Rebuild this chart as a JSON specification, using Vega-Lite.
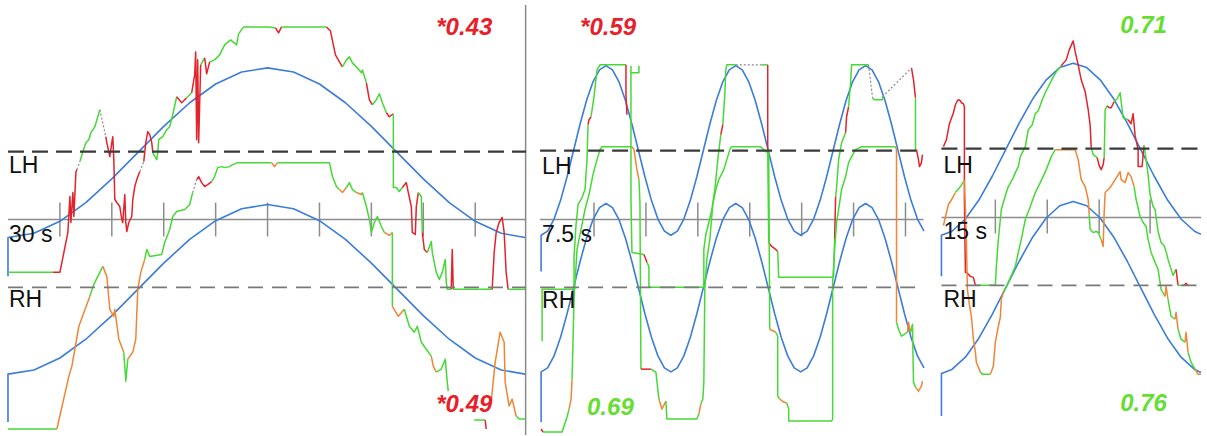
{
"$schema": "https://vega.github.io/schema/vega-lite/v6.json",
"width": 1207, "height": 436,
"autosize": {"type": "fit", "contains": "padding"},
"padding": 0,
"background": "white",
"config": {"view": {"stroke": null}},
"datasets": {
"refs": [
{"kind":"LH","x":8,"x2":527,"y":152},{"kind":"LH","x":541,"x2":925,"y":151},{"kind":"LH","x":943,"x2":1207,"y":149},
{"kind":"RH","x":8,"x2":527,"y":288},{"kind":"RH","x":541,"x2":925,"y":288},{"kind":"RH","x":943,"x2":1203,"y":286},
{"kind":"mid","x":8,"x2":527,"y":220},{"kind":"mid","x":541,"x2":925,"y":220},{"kind":"mid","x":943,"x2":1203,"y":218}
],
"sep": [{"x":526.5,"y":5,"y2":436}],
"ticks": [
{"x":60,"y":203,"y2":237},{"x":112,"y":203,"y2":237},{"x":164,"y":203,"y2":237},{"x":216,"y":203,"y2":237},{"x":268,"y":203,"y2":237},{"x":320,"y":203,"y2":237},{"x":372,"y":203,"y2":237},{"x":424,"y":203,"y2":237},{"x":476,"y":203,"y2":237},
{"x":595,"y":203,"y2":237},{"x":647,"y":203,"y2":237},{"x":699,"y":203,"y2":237},{"x":751,"y":203,"y2":237},{"x":803,"y":203,"y2":237},{"x":855,"y":203,"y2":237},{"x":907,"y":203,"y2":237},
{"x":997,"y":200,"y2":234},{"x":1049,"y":200,"y2":234},{"x":1101,"y":200,"y2":234},{"x":1152,"y":200,"y2":234}
],
"labels": [
{"t":"LH","x":9,"y":173},{"t":"30 s","x":9,"y":243},{"t":"RH","x":9,"y":308},
{"t":"LH","x":543,"y":174},{"t":"7.5 s","x":543,"y":243},{"t":"RH","x":543,"y":309},
{"t":"LH","x":945,"y":173},{"t":"15 s","x":945,"y":240},{"t":"RH","x":945,"y":308}
],
"scores": [
{"t":"*0.43","x":437,"y":35,"k":"sig"},{"t":"*0.49","x":437,"y":413,"k":"sig"},
{"t":"*0.59","x":581,"y":35,"k":"sig"},{"t":"0.69","x":588,"y":416,"k":"ns"},
{"t":"0.71","x":1122,"y":33,"k":"ns"},{"t":"0.76","x":1122,"y":412,"k":"ns"}
],
"target": [
{"s":"t1u","x":8,"y":277},{"s":"t1u","x":8,"y":238},{"s":"t1u","x":34,"y":233.8},{"s":"t1u","x":60,"y":221.8},{"s":"t1u","x":86,"y":203},{"s":"t1u","x":112,"y":179.3},{"s":"t1u","x":138,"y":153},{"s":"t1u","x":164,"y":126.7},{"s":"t1u","x":190,"y":103},{"s":"t1u","x":216,"y":84.2},{"s":"t1u","x":242,"y":72.2},{"s":"t1u","x":268,"y":68},{"s":"t1u","x":294,"y":72.2},{"s":"t1u","x":320,"y":84.2},{"s":"t1u","x":346,"y":103},{"s":"t1u","x":372,"y":126.7},{"s":"t1u","x":398,"y":153},{"s":"t1u","x":424,"y":179.3},{"s":"t1u","x":450,"y":203},{"s":"t1u","x":476,"y":221.8},{"s":"t1u","x":502,"y":233.8},{"s":"t1u","x":526,"y":238},
{"s":"t1l","x":8,"y":423},{"s":"t1l","x":8,"y":375},{"s":"t1l","x":34,"y":370.8},{"s":"t1l","x":60,"y":358.8},{"s":"t1l","x":86,"y":340},{"s":"t1l","x":112,"y":316.3},{"s":"t1l","x":138,"y":290},{"s":"t1l","x":164,"y":263.7},{"s":"t1l","x":190,"y":240},{"s":"t1l","x":216,"y":221.2},{"s":"t1l","x":242,"y":209.2},{"s":"t1l","x":268,"y":205},{"s":"t1l","x":294,"y":209.2},{"s":"t1l","x":320,"y":221.2},{"s":"t1l","x":346,"y":240},{"s":"t1l","x":372,"y":263.7},{"s":"t1l","x":398,"y":290},{"s":"t1l","x":424,"y":316.3},{"s":"t1l","x":450,"y":340},{"s":"t1l","x":476,"y":358.8},{"s":"t1l","x":502,"y":370.8},{"s":"t1l","x":526,"y":375},
{"s":"t2u","x":542,"y":272},{"s":"t2u","x":542,"y":235.8},{"s":"t2u","x":548.5,"y":231.6},{"s":"t2u","x":555,"y":219.6},{"s":"t2u","x":561.5,"y":200.8},{"s":"t2u","x":568,"y":177.1},{"s":"t2u","x":574.5,"y":150.8},{"s":"t2u","x":581,"y":124.5},{"s":"t2u","x":587.5,"y":100.8},{"s":"t2u","x":594,"y":82},{"s":"t2u","x":600.5,"y":70},{"s":"t2u","x":607,"y":65.8},{"s":"t2u","x":613.5,"y":70},{"s":"t2u","x":620,"y":82},{"s":"t2u","x":626.5,"y":100.8},{"s":"t2u","x":633,"y":124.5},{"s":"t2u","x":639.5,"y":150.8},{"s":"t2u","x":646,"y":177.1},{"s":"t2u","x":652.5,"y":200.8},{"s":"t2u","x":659,"y":219.6},{"s":"t2u","x":665.5,"y":231.6},
{"s":"t2u","x":672,"y":235.8},{"s":"t2u","x":678.5,"y":231.6},{"s":"t2u","x":685,"y":219.6},{"s":"t2u","x":691.5,"y":200.8},{"s":"t2u","x":698,"y":177.1},{"s":"t2u","x":704.5,"y":150.8},{"s":"t2u","x":711,"y":124.5},{"s":"t2u","x":717.5,"y":100.8},{"s":"t2u","x":724,"y":82},{"s":"t2u","x":730.5,"y":70},{"s":"t2u","x":737,"y":65.8},{"s":"t2u","x":743.5,"y":70},{"s":"t2u","x":750,"y":82},{"s":"t2u","x":756.5,"y":100.8},{"s":"t2u","x":763,"y":124.5},{"s":"t2u","x":769.5,"y":150.8},{"s":"t2u","x":776,"y":177.1},{"s":"t2u","x":782.5,"y":200.8},{"s":"t2u","x":789,"y":219.6},{"s":"t2u","x":795.5,"y":231.6},
{"s":"t2u","x":802,"y":235.8},{"s":"t2u","x":808.5,"y":231.6},{"s":"t2u","x":815,"y":219.6},{"s":"t2u","x":821.5,"y":200.8},{"s":"t2u","x":828,"y":177.1},{"s":"t2u","x":834.5,"y":150.8},{"s":"t2u","x":841,"y":124.5},{"s":"t2u","x":847.5,"y":100.8},{"s":"t2u","x":854,"y":82},{"s":"t2u","x":860.5,"y":70},{"s":"t2u","x":867,"y":65.8},{"s":"t2u","x":873.5,"y":70},{"s":"t2u","x":880,"y":82},{"s":"t2u","x":886.5,"y":100.8},{"s":"t2u","x":893,"y":124.5},{"s":"t2u","x":899.5,"y":150.8},{"s":"t2u","x":906,"y":177.1},{"s":"t2u","x":912.5,"y":200.8},{"s":"t2u","x":919,"y":219.6},{"s":"t2u","x":925.5,"y":231.6},
{"s":"t2l","x":542,"y":423},{"s":"t2l","x":542,"y":372.8},{"s":"t2l","x":548.5,"y":368.7},{"s":"t2l","x":555,"y":356.7},{"s":"t2l","x":561.5,"y":338},{"s":"t2l","x":568,"y":314.5},{"s":"t2l","x":574.5,"y":288.4},{"s":"t2l","x":581,"y":262.3},{"s":"t2l","x":587.5,"y":238.8},{"s":"t2l","x":594,"y":220.1},{"s":"t2l","x":600.5,"y":208.1},{"s":"t2l","x":607,"y":204},{"s":"t2l","x":613.5,"y":208.1},{"s":"t2l","x":620,"y":220.1},{"s":"t2l","x":626.5,"y":238.8},{"s":"t2l","x":633,"y":262.3},{"s":"t2l","x":639.5,"y":288.4},{"s":"t2l","x":646,"y":314.5},{"s":"t2l","x":652.5,"y":338},{"s":"t2l","x":659,"y":356.7},{"s":"t2l","x":665.5,"y":368.7},
{"s":"t2l","x":672,"y":372.8},{"s":"t2l","x":678.5,"y":368.7},{"s":"t2l","x":685,"y":356.7},{"s":"t2l","x":691.5,"y":338},{"s":"t2l","x":698,"y":314.5},{"s":"t2l","x":704.5,"y":288.4},{"s":"t2l","x":711,"y":262.3},{"s":"t2l","x":717.5,"y":238.8},{"s":"t2l","x":724,"y":220.1},{"s":"t2l","x":730.5,"y":208.1},{"s":"t2l","x":737,"y":204},{"s":"t2l","x":743.5,"y":208.1},{"s":"t2l","x":750,"y":220.1},{"s":"t2l","x":756.5,"y":238.8},{"s":"t2l","x":763,"y":262.3},{"s":"t2l","x":769.5,"y":288.4},{"s":"t2l","x":776,"y":314.5},{"s":"t2l","x":782.5,"y":338},{"s":"t2l","x":789,"y":356.7},{"s":"t2l","x":795.5,"y":368.7},
{"s":"t2l","x":802,"y":372.8},{"s":"t2l","x":808.5,"y":368.7},{"s":"t2l","x":815,"y":356.7},{"s":"t2l","x":821.5,"y":338},{"s":"t2l","x":828,"y":314.5},{"s":"t2l","x":834.5,"y":288.4},{"s":"t2l","x":841,"y":262.3},{"s":"t2l","x":847.5,"y":238.8},{"s":"t2l","x":854,"y":220.1},{"s":"t2l","x":860.5,"y":208.1},{"s":"t2l","x":867,"y":204},{"s":"t2l","x":873.5,"y":208.1},{"s":"t2l","x":880,"y":220.1},{"s":"t2l","x":886.5,"y":238.8},{"s":"t2l","x":893,"y":262.3},{"s":"t2l","x":899.5,"y":288.4},{"s":"t2l","x":906,"y":314.5},{"s":"t2l","x":912.5,"y":338},{"s":"t2l","x":919,"y":356.7},{"s":"t2l","x":925.5,"y":368.7},
{"s":"t3u","x":943,"y":277},{"s":"t3u","x":943,"y":235.8},{"s":"t3u","x":953.5,"y":231.8},{"s":"t3u","x":967,"y":219.5},{"s":"t3u","x":980.5,"y":200.5},{"s":"t3u","x":994,"y":176.4},{"s":"t3u","x":1007.5,"y":149.8},{"s":"t3u","x":1021,"y":123.1},{"s":"t3u","x":1034.5,"y":99},{"s":"t3u","x":1048,"y":80},{"s":"t3u","x":1061.5,"y":67.7},{"s":"t3u","x":1075,"y":63.5},{"s":"t3u","x":1088.5,"y":67.7},{"s":"t3u","x":1102,"y":80},{"s":"t3u","x":1115.5,"y":99},{"s":"t3u","x":1129,"y":123.1},{"s":"t3u","x":1142.5,"y":149.8},{"s":"t3u","x":1156,"y":176.4},{"s":"t3u","x":1169.5,"y":200.5},{"s":"t3u","x":1183,"y":219.5},{"s":"t3u","x":1196.5,"y":231.8},{"s":"t3u","x":1203,"y":234.9},
{"s":"t3l","x":943,"y":417},{"s":"t3l","x":943,"y":374.3},{"s":"t3l","x":953.5,"y":370.3},{"s":"t3l","x":967,"y":358},{"s":"t3l","x":980.5,"y":339},{"s":"t3l","x":994,"y":314.9},{"s":"t3l","x":1007.5,"y":288.3},{"s":"t3l","x":1021,"y":261.6},{"s":"t3l","x":1034.5,"y":237.5},{"s":"t3l","x":1048,"y":218.5},{"s":"t3l","x":1061.5,"y":206.2},{"s":"t3l","x":1075,"y":202},{"s":"t3l","x":1088.5,"y":206.2},{"s":"t3l","x":1102,"y":218.5},{"s":"t3l","x":1115.5,"y":237.5},{"s":"t3l","x":1129,"y":261.6},{"s":"t3l","x":1142.5,"y":288.3},{"s":"t3l","x":1156,"y":314.9},{"s":"t3l","x":1169.5,"y":339},{"s":"t3l","x":1183,"y":358},{"s":"t3l","x":1196.5,"y":370.3},{"s":"t3l","x":1203,"y":373.4}
],
"tr": [
{"s":"a1-01","st":"hit","x":8,"y":273},{"s":"a1-01","st":"hit","x":53,"y":273},
{"s":"a1-02","st":"miss","x":53,"y":273},{"s":"a1-02","st":"miss","x":60,"y":273},{"s":"a1-02","st":"miss","x":68,"y":233},{"s":"a1-02","st":"miss","x":70,"y":197},{"s":"a1-02","st":"miss","x":71,"y":223},{"s":"a1-02","st":"miss","x":73,"y":193},{"s":"a1-02","st":"miss","x":74,"y":217},{"s":"a1-02","st":"miss","x":76,"y":173},{"s":"a1-02","st":"miss","x":77,"y":170},
{"s":"a1-03","st":"gap","x":77,"y":170},{"s":"a1-03","st":"gap","x":80,"y":162},
{"s":"a1-04","st":"hit","x":80,"y":162},{"s":"a1-04","st":"hit","x":83,"y":152},{"s":"a1-04","st":"hit","x":86,"y":143},{"s":"a1-04","st":"hit","x":89,"y":140},{"s":"a1-04","st":"hit","x":91,"y":133},{"s":"a1-04","st":"hit","x":95,"y":127},{"s":"a1-04","st":"hit","x":100,"y":110},
{"s":"a1-05","st":"gap","x":100,"y":110},{"s":"a1-05","st":"gap","x":106,"y":137},
{"s":"a1-06","st":"miss","x":106,"y":137},{"s":"a1-06","st":"miss","x":107,"y":143},{"s":"a1-06","st":"miss","x":110,"y":157},{"s":"a1-06","st":"miss","x":112,"y":143},{"s":"a1-06","st":"miss","x":113,"y":137},{"s":"a1-06","st":"miss","x":114,"y":160},{"s":"a1-06","st":"miss","x":115,"y":200},{"s":"a1-06","st":"miss","x":117,"y":203},{"s":"a1-06","st":"miss","x":120,"y":207},{"s":"a1-06","st":"miss","x":122,"y":220},{"s":"a1-06","st":"miss","x":123,"y":223},{"s":"a1-06","st":"miss","x":125,"y":195},{"s":"a1-06","st":"miss","x":126,"y":223},{"s":"a1-06","st":"miss","x":127,"y":232},{"s":"a1-06","st":"miss","x":129,"y":223},{"s":"a1-06","st":"miss","x":132,"y":217},{"s":"a1-06","st":"miss","x":133,"y":200},{"s":"a1-06","st":"miss","x":135,"y":187},{"s":"a1-06","st":"miss","x":137,"y":180},{"s":"a1-06","st":"miss","x":140,"y":172},
{"s":"a1-07","st":"gap","x":140,"y":172},{"s":"a1-07","st":"gap","x":144,"y":162},
{"s":"a1-08","st":"miss","x":144,"y":162},{"s":"a1-08","st":"miss","x":146,"y":143},{"s":"a1-08","st":"miss","x":148,"y":132},{"s":"a1-08","st":"miss","x":150,"y":135},{"s":"a1-08","st":"miss","x":152,"y":143},{"s":"a1-08","st":"miss","x":153,"y":152},
{"s":"a1-09","st":"hit","x":153,"y":152},{"s":"a1-09","st":"hit","x":154,"y":155},{"s":"a1-09","st":"hit","x":157,"y":160},{"s":"a1-09","st":"hit","x":158,"y":153},{"s":"a1-09","st":"hit","x":159,"y":140},{"s":"a1-09","st":"hit","x":163,"y":137},{"s":"a1-09","st":"hit","x":167,"y":130},{"s":"a1-09","st":"hit","x":170,"y":127},{"s":"a1-09","st":"hit","x":173,"y":115},{"s":"a1-09","st":"hit","x":177,"y":97},
{"s":"a1-10","st":"miss","x":177,"y":97},{"s":"a1-10","st":"miss","x":182,"y":103},{"s":"a1-10","st":"miss","x":187,"y":98},
{"s":"a1-11","st":"hit","x":187,"y":98},{"s":"a1-11","st":"hit","x":192,"y":93},
{"s":"a1-12","st":"miss","x":192,"y":93},{"s":"a1-12","st":"miss","x":195,"y":75},{"s":"a1-12","st":"miss","x":196,"y":52},{"s":"a1-12","st":"miss","x":197,"y":140},{"s":"a1-12","st":"miss","x":198,"y":60},{"s":"a1-12","st":"miss","x":199,"y":143},{"s":"a1-12","st":"miss","x":201,"y":65},
{"s":"a1-13","st":"hit","x":201,"y":65},{"s":"a1-13","st":"hit","x":205,"y":58},
{"s":"a1-14","st":"miss","x":205,"y":58},{"s":"a1-14","st":"miss","x":207,"y":74},{"s":"a1-14","st":"miss","x":210,"y":62},
{"s":"a1-15","st":"hit","x":210,"y":62},{"s":"a1-15","st":"hit","x":215,"y":60},{"s":"a1-15","st":"hit","x":220,"y":55},{"s":"a1-15","st":"hit","x":225,"y":45},{"s":"a1-15","st":"hit","x":231,"y":40},{"s":"a1-15","st":"hit","x":237,"y":45},{"s":"a1-15","st":"hit","x":239,"y":34},{"s":"a1-15","st":"hit","x":244,"y":27},{"s":"a1-15","st":"hit","x":270,"y":27},{"s":"a1-15","st":"hit","x":276,"y":28},
{"s":"a1-16","st":"miss","x":276,"y":28},{"s":"a1-16","st":"miss","x":279,"y":33},{"s":"a1-16","st":"miss","x":282,"y":27},
{"s":"a1-17","st":"hit","x":282,"y":27},{"s":"a1-17","st":"hit","x":327,"y":27},
{"s":"a1-18","st":"miss","x":327,"y":27},{"s":"a1-18","st":"miss","x":331,"y":31},{"s":"a1-18","st":"miss","x":336,"y":55},{"s":"a1-18","st":"miss","x":340,"y":62},{"s":"a1-18","st":"miss","x":343,"y":67},
{"s":"a1-19","st":"hit","x":343,"y":67},{"s":"a1-19","st":"hit","x":347,"y":60},{"s":"a1-19","st":"hit","x":350,"y":57},{"s":"a1-19","st":"hit","x":353,"y":63},{"s":"a1-19","st":"hit","x":357,"y":67},{"s":"a1-19","st":"hit","x":362,"y":73},{"s":"a1-19","st":"hit","x":363,"y":70},{"s":"a1-19","st":"hit","x":367,"y":83},
{"s":"a1-20","st":"miss","x":367,"y":83},{"s":"a1-20","st":"miss","x":370,"y":100},{"s":"a1-20","st":"miss","x":373,"y":105},
{"s":"a1-21","st":"hit","x":373,"y":105},{"s":"a1-21","st":"hit","x":377,"y":100},{"s":"a1-21","st":"hit","x":380,"y":94},{"s":"a1-21","st":"hit","x":383,"y":103},{"s":"a1-21","st":"hit","x":387,"y":113},
{"s":"a1-22","st":"miss","x":387,"y":113},{"s":"a1-22","st":"miss","x":390,"y":117},{"s":"a1-22","st":"miss","x":394,"y":114},
{"s":"a1-23","st":"hit","x":394,"y":114},{"s":"a1-23","st":"hit","x":394,"y":188},{"s":"a1-23","st":"hit","x":397,"y":188},{"s":"a1-23","st":"hit","x":400,"y":192},{"s":"a1-23","st":"hit","x":403,"y":188},
{"s":"a1-24","st":"miss","x":403,"y":188},{"s":"a1-24","st":"miss","x":407,"y":183},{"s":"a1-24","st":"miss","x":409,"y":193},{"s":"a1-24","st":"miss","x":412,"y":207},{"s":"a1-24","st":"miss","x":413,"y":233},{"s":"a1-24","st":"miss","x":416,"y":235},{"s":"a1-24","st":"miss","x":417,"y":207},{"s":"a1-24","st":"miss","x":419,"y":193},
{"s":"a1-25","st":"hit","x":419,"y":193},{"s":"a1-25","st":"hit","x":422,"y":197},{"s":"a1-25","st":"hit","x":423,"y":233},
{"s":"a1-26","st":"miss","x":423,"y":233},{"s":"a1-26","st":"miss","x":425,"y":250},{"s":"a1-26","st":"miss","x":428,"y":253},
{"s":"a1-27","st":"hit","x":428,"y":253},{"s":"a1-27","st":"hit","x":432,"y":242},{"s":"a1-27","st":"hit","x":433,"y":253},{"s":"a1-27","st":"hit","x":437,"y":273},{"s":"a1-27","st":"hit","x":440,"y":280},{"s":"a1-27","st":"hit","x":443,"y":273},{"s":"a1-27","st":"hit","x":446,"y":260},{"s":"a1-27","st":"hit","x":447,"y":283},{"s":"a1-27","st":"hit","x":448,"y":290},{"s":"a1-27","st":"hit","x":452,"y":290},
{"s":"a1-28","st":"miss","x":452,"y":290},{"s":"a1-28","st":"miss","x":453,"y":250},{"s":"a1-28","st":"miss","x":454,"y":290},
{"s":"a1-29","st":"hit","x":454,"y":290},{"s":"a1-29","st":"hit","x":493,"y":290},
{"s":"a1-30","st":"miss","x":493,"y":290},{"s":"a1-30","st":"miss","x":495,"y":253},{"s":"a1-30","st":"miss","x":497,"y":233},{"s":"a1-30","st":"miss","x":500,"y":223},{"s":"a1-30","st":"miss","x":503,"y":218},{"s":"a1-30","st":"miss","x":505,"y":233},{"s":"a1-30","st":"miss","x":507,"y":273},{"s":"a1-30","st":"miss","x":509,"y":290},
{"s":"a1-31","st":"hit","x":509,"y":290},{"s":"a1-31","st":"hit","x":526,"y":290},
{"s":"b1-01","st":"hit","x":8,"y":430},{"s":"b1-01","st":"hit","x":57,"y":430},
{"s":"b1-02","st":"late","x":57,"y":430},{"s":"b1-02","st":"late","x":69,"y":377},{"s":"b1-02","st":"late","x":72,"y":367},{"s":"b1-02","st":"late","x":79,"y":327},{"s":"b1-02","st":"late","x":90,"y":297},
{"s":"b1-03","st":"hit","x":90,"y":297},{"s":"b1-03","st":"hit","x":94,"y":285},{"s":"b1-03","st":"hit","x":103,"y":267},
{"s":"b1-04","st":"late","x":103,"y":267},{"s":"b1-04","st":"late","x":107,"y":277},{"s":"b1-04","st":"late","x":110,"y":310},{"s":"b1-04","st":"late","x":114,"y":317},{"s":"b1-04","st":"late","x":115,"y":310},{"s":"b1-04","st":"late","x":119,"y":340},{"s":"b1-04","st":"late","x":124,"y":353},
{"s":"b1-05","st":"hit","x":124,"y":353},{"s":"b1-05","st":"hit","x":126,"y":382},{"s":"b1-05","st":"hit","x":128,"y":360},
{"s":"b1-06","st":"late","x":128,"y":360},{"s":"b1-06","st":"late","x":133,"y":353},{"s":"b1-06","st":"late","x":136,"y":340},{"s":"b1-06","st":"late","x":138,"y":290},{"s":"b1-06","st":"late","x":141,"y":273},{"s":"b1-06","st":"late","x":145,"y":260},
{"s":"b1-07","st":"hit","x":145,"y":260},{"s":"b1-07","st":"hit","x":147,"y":250},{"s":"b1-07","st":"hit","x":150,"y":257},{"s":"b1-07","st":"hit","x":162,"y":255},{"s":"b1-07","st":"hit","x":165,"y":243},{"s":"b1-07","st":"hit","x":170,"y":230},{"s":"b1-07","st":"hit","x":173,"y":217},{"s":"b1-07","st":"hit","x":177,"y":212},{"s":"b1-07","st":"hit","x":185,"y":210},{"s":"b1-07","st":"hit","x":190,"y":205},{"s":"b1-07","st":"hit","x":193,"y":193},
{"s":"b1-08","st":"gap","x":193,"y":193},{"s":"b1-08","st":"gap","x":197,"y":180},
{"s":"b1-09","st":"miss","x":197,"y":180},{"s":"b1-09","st":"miss","x":199,"y":177},{"s":"b1-09","st":"miss","x":202,"y":183},{"s":"b1-09","st":"miss","x":205,"y":187},{"s":"b1-09","st":"miss","x":208,"y":185},{"s":"b1-09","st":"miss","x":212,"y":182},
{"s":"b1-10","st":"hit","x":212,"y":182},{"s":"b1-10","st":"hit","x":215,"y":177},{"s":"b1-10","st":"hit","x":218,"y":168},{"s":"b1-10","st":"hit","x":222,"y":167},{"s":"b1-10","st":"hit","x":225,"y":168},{"s":"b1-10","st":"hit","x":230,"y":167},{"s":"b1-10","st":"hit","x":233,"y":165},{"s":"b1-10","st":"hit","x":238,"y":163},{"s":"b1-10","st":"hit","x":272,"y":163},
{"s":"b1-11","st":"late","x":272,"y":163},{"s":"b1-11","st":"late","x":275,"y":167},{"s":"b1-11","st":"late","x":278,"y":163},
{"s":"b1-12","st":"hit","x":278,"y":163},{"s":"b1-12","st":"hit","x":330,"y":163},{"s":"b1-12","st":"hit","x":333,"y":177},{"s":"b1-12","st":"hit","x":337,"y":187},{"s":"b1-12","st":"hit","x":340,"y":190},
{"s":"b1-13","st":"late","x":340,"y":190},{"s":"b1-13","st":"late","x":343,"y":193},{"s":"b1-13","st":"late","x":347,"y":188},
{"s":"b1-14","st":"hit","x":347,"y":188},{"s":"b1-14","st":"hit","x":350,"y":183},{"s":"b1-14","st":"hit","x":353,"y":190},{"s":"b1-14","st":"hit","x":357,"y":193},
{"s":"b1-15","st":"late","x":357,"y":193},{"s":"b1-15","st":"late","x":362,"y":195},{"s":"b1-15","st":"late","x":363,"y":193},
{"s":"b1-16","st":"hit","x":363,"y":193},{"s":"b1-16","st":"hit","x":367,"y":207},{"s":"b1-16","st":"hit","x":370,"y":220},{"s":"b1-16","st":"hit","x":372,"y":233},{"s":"b1-16","st":"hit","x":375,"y":223},{"s":"b1-16","st":"hit","x":378,"y":217},{"s":"b1-16","st":"hit","x":382,"y":227},{"s":"b1-16","st":"hit","x":385,"y":233},
{"s":"b1-17","st":"late","x":385,"y":233},{"s":"b1-17","st":"late","x":390,"y":236},{"s":"b1-17","st":"late","x":393,"y":233},
{"s":"b1-18","st":"hit","x":393,"y":233},{"s":"b1-18","st":"hit","x":393,"y":307},
{"s":"b1-19","st":"late","x":393,"y":307},{"s":"b1-19","st":"late","x":399,"y":317},{"s":"b1-19","st":"late","x":405,"y":310},
{"s":"b1-20","st":"hit","x":405,"y":310},{"s":"b1-20","st":"hit","x":410,"y":327},{"s":"b1-20","st":"hit","x":415,"y":333},{"s":"b1-20","st":"hit","x":418,"y":327},{"s":"b1-20","st":"hit","x":422,"y":343},{"s":"b1-20","st":"hit","x":427,"y":350},{"s":"b1-20","st":"hit","x":432,"y":357},
{"s":"b1-21","st":"late","x":432,"y":357},{"s":"b1-21","st":"late","x":434,"y":367},{"s":"b1-21","st":"late","x":437,"y":373},
{"s":"b1-22","st":"hit","x":437,"y":373},{"s":"b1-22","st":"hit","x":442,"y":370},{"s":"b1-22","st":"hit","x":446,"y":360},{"s":"b1-22","st":"hit","x":448,"y":383},{"s":"b1-22","st":"hit","x":449,"y":392},
{"s":"b1-23","st":"hit","x":475,"y":421},{"s":"b1-23","st":"hit","x":486,"y":421},
{"s":"b1-24","st":"miss","x":486,"y":421},{"s":"b1-24","st":"miss","x":487,"y":430},
{"s":"b1-25","st":"late","x":492,"y":403},{"s":"b1-25","st":"late","x":496,"y":363},{"s":"b1-25","st":"late","x":501,"y":333},{"s":"b1-25","st":"late","x":505,"y":343},{"s":"b1-25","st":"late","x":506,"y":383},{"s":"b1-25","st":"late","x":510,"y":407},{"s":"b1-25","st":"late","x":513,"y":400},{"s":"b1-25","st":"late","x":517,"y":417},
{"s":"b1-26","st":"hit","x":517,"y":417},{"s":"b1-26","st":"hit","x":520,"y":420},{"s":"b1-26","st":"hit","x":526,"y":420},
{"s":"a2-01","st":"hit","x":543,"y":342},{"s":"a2-01","st":"hit","x":543,"y":290},{"s":"a2-01","st":"hit","x":575,"y":290},{"s":"a2-01","st":"hit","x":575,"y":257},{"s":"a2-01","st":"hit","x":577,"y":225},{"s":"a2-01","st":"hit","x":579,"y":205},{"s":"a2-01","st":"hit","x":583,"y":198},{"s":"a2-01","st":"hit","x":586,"y":190},{"s":"a2-01","st":"hit","x":588,"y":160},{"s":"a2-01","st":"hit","x":589,"y":125},
{"s":"a2-02","st":"miss","x":589,"y":125},{"s":"a2-02","st":"miss","x":590,"y":120},{"s":"a2-02","st":"miss","x":592,"y":117},
{"s":"a2-03","st":"hit","x":592,"y":117},{"s":"a2-03","st":"hit","x":595,"y":97},{"s":"a2-03","st":"hit","x":598,"y":70},{"s":"a2-03","st":"hit","x":601,"y":65},{"s":"a2-03","st":"hit","x":627,"y":65},
{"s":"a2-04","st":"miss","x":627,"y":65},{"s":"a2-04","st":"miss","x":627,"y":95},{"s":"a2-04","st":"miss","x":628,"y":115},
{"s":"a2-05","st":"hit","x":632,"y":66},{"s":"a2-05","st":"hit","x":632,"y":73},{"s":"a2-05","st":"hit","x":640,"y":73},{"s":"a2-05","st":"hit","x":640,"y":66},
{"s":"a2-06","st":"hit","x":632,"y":73},{"s":"a2-06","st":"hit","x":632,"y":200},{"s":"a2-06","st":"hit","x":633,"y":253},{"s":"a2-06","st":"hit","x":645,"y":255},
{"s":"a2-07","st":"miss","x":645,"y":255},{"s":"a2-07","st":"miss","x":647,"y":260},{"s":"a2-07","st":"miss","x":648,"y":263},
{"s":"a2-08","st":"hit","x":648,"y":263},{"s":"a2-08","st":"hit","x":650,"y":267},{"s":"a2-08","st":"hit","x":650,"y":288},{"s":"a2-08","st":"hit","x":705,"y":288},{"s":"a2-08","st":"hit","x":705,"y":250},{"s":"a2-08","st":"hit","x":707,"y":235},{"s":"a2-08","st":"hit","x":710,"y":223},{"s":"a2-08","st":"hit","x":713,"y":210},{"s":"a2-08","st":"hit","x":716,"y":190},{"s":"a2-08","st":"hit","x":719,"y":160},{"s":"a2-08","st":"hit","x":722,"y":135},
{"s":"a2-09","st":"miss","x":722,"y":135},{"s":"a2-09","st":"miss","x":724,"y":125},
{"s":"a2-10","st":"hit","x":724,"y":125},{"s":"a2-10","st":"hit","x":726,"y":95},{"s":"a2-10","st":"hit","x":727,"y":70},{"s":"a2-10","st":"hit","x":728,"y":65},{"s":"a2-10","st":"hit","x":737,"y":65},
{"s":"a2-11","st":"gap","x":737,"y":65},{"s":"a2-11","st":"gap","x":763,"y":65},
{"s":"a2-12","st":"hit","x":763,"y":65},{"s":"a2-12","st":"hit","x":769,"y":65},
{"s":"a2-13","st":"miss","x":769,"y":65},{"s":"a2-13","st":"miss","x":769,"y":150},
{"s":"a2-14","st":"hit","x":769,"y":150},{"s":"a2-14","st":"hit","x":770,"y":243},
{"s":"a2-15","st":"miss","x":770,"y":243},{"s":"a2-15","st":"miss","x":773,"y":247},{"s":"a2-15","st":"miss","x":777,"y":250},{"s":"a2-15","st":"miss","x":779,"y":252},
{"s":"a2-16","st":"hit","x":779,"y":252},{"s":"a2-16","st":"hit","x":780,"y":278},{"s":"a2-16","st":"hit","x":833,"y":278},{"s":"a2-16","st":"hit","x":835,"y":277},{"s":"a2-16","st":"hit","x":836,"y":240},
{"s":"a2-17","st":"miss","x":836,"y":240},{"s":"a2-17","st":"miss","x":837,"y":197},
{"s":"a2-18","st":"hit","x":837,"y":197},{"s":"a2-18","st":"hit","x":838,"y":188},{"s":"a2-18","st":"hit","x":840,"y":160},{"s":"a2-18","st":"hit","x":843,"y":143},{"s":"a2-18","st":"hit","x":847,"y":133},
{"s":"a2-19","st":"miss","x":847,"y":133},{"s":"a2-19","st":"miss","x":848,"y":117},{"s":"a2-19","st":"miss","x":850,"y":107},
{"s":"a2-20","st":"hit","x":850,"y":107},{"s":"a2-20","st":"hit","x":852,"y":83},{"s":"a2-20","st":"hit","x":853,"y":65},{"s":"a2-20","st":"hit","x":870,"y":65},
{"s":"a2-21","st":"gap","x":870,"y":65},{"s":"a2-21","st":"gap","x":874,"y":98},
{"s":"a2-22","st":"hit","x":874,"y":98},{"s":"a2-22","st":"hit","x":876,"y":100},{"s":"a2-22","st":"hit","x":884,"y":100},{"s":"a2-22","st":"hit","x":884,"y":97},
{"s":"a2-23","st":"gap","x":884,"y":97},{"s":"a2-23","st":"gap","x":913,"y":68},
{"s":"a2-24","st":"miss","x":913,"y":68},{"s":"a2-24","st":"miss","x":915,"y":80},{"s":"a2-24","st":"miss","x":917,"y":98},
{"s":"a2-25","st":"hit","x":917,"y":98},{"s":"a2-25","st":"hit","x":917,"y":150},{"s":"a2-25","st":"hit","x":918,"y":150},
{"s":"a2-26","st":"miss","x":918,"y":150},{"s":"a2-26","st":"miss","x":920,"y":160},{"s":"a2-26","st":"miss","x":921,"y":167},{"s":"a2-26","st":"miss","x":923,"y":163},{"s":"a2-26","st":"miss","x":924,"y":155},
{"s":"b2-01","st":"miss","x":542,"y":430},{"s":"b2-01","st":"miss","x":544,"y":433},
{"s":"b2-02","st":"hit","x":544,"y":433},{"s":"b2-02","st":"hit","x":563,"y":433},{"s":"b2-02","st":"hit","x":568,"y":418},{"s":"b2-02","st":"hit","x":570,"y":410},
{"s":"b2-03","st":"late","x":570,"y":410},{"s":"b2-03","st":"late","x":572,"y":400},{"s":"b2-03","st":"late","x":573,"y":380},
{"s":"b2-04","st":"hit","x":573,"y":380},{"s":"b2-04","st":"hit","x":575,"y":300},{"s":"b2-04","st":"hit","x":578,"y":250},{"s":"b2-04","st":"hit","x":582,"y":230},{"s":"b2-04","st":"hit","x":586,"y":210},{"s":"b2-04","st":"hit","x":590,"y":195},{"s":"b2-04","st":"hit","x":594,"y":175},{"s":"b2-04","st":"hit","x":598,"y":160},{"s":"b2-04","st":"hit","x":601,"y":150},{"s":"b2-04","st":"hit","x":603,"y":147},{"s":"b2-04","st":"hit","x":633,"y":147},
{"s":"b2-05","st":"late","x":633,"y":147},{"s":"b2-05","st":"late","x":635,"y":150},{"s":"b2-05","st":"late","x":638,"y":170},{"s":"b2-05","st":"late","x":640,"y":180},
{"s":"b2-06","st":"hit","x":640,"y":180},{"s":"b2-06","st":"hit","x":641,"y":203},{"s":"b2-06","st":"hit","x":642,"y":370},
{"s":"b2-07","st":"miss","x":642,"y":370},{"s":"b2-07","st":"miss","x":652,"y":370},
{"s":"b2-08","st":"hit","x":652,"y":370},{"s":"b2-08","st":"hit","x":657,"y":373},{"s":"b2-08","st":"hit","x":660,"y":400},
{"s":"b2-09","st":"late","x":660,"y":400},{"s":"b2-09","st":"late","x":663,"y":410},{"s":"b2-09","st":"late","x":667,"y":402},
{"s":"b2-10","st":"hit","x":667,"y":402},{"s":"b2-10","st":"hit","x":668,"y":420},{"s":"b2-10","st":"hit","x":698,"y":420},{"s":"b2-10","st":"hit","x":700,"y":415},
{"s":"b2-11","st":"late","x":700,"y":415},{"s":"b2-11","st":"late","x":702,"y":405},
{"s":"b2-12","st":"hit","x":702,"y":405},{"s":"b2-12","st":"hit","x":704,"y":400},{"s":"b2-12","st":"hit","x":705,"y":383},{"s":"b2-12","st":"hit","x":706,"y":290},{"s":"b2-12","st":"hit","x":708,"y":260},{"s":"b2-12","st":"hit","x":711,"y":240},{"s":"b2-12","st":"hit","x":714,"y":205},{"s":"b2-12","st":"hit","x":717,"y":190},{"s":"b2-12","st":"hit","x":720,"y":180},{"s":"b2-12","st":"hit","x":725,"y":170},{"s":"b2-12","st":"hit","x":728,"y":160},{"s":"b2-12","st":"hit","x":731,"y":150},{"s":"b2-12","st":"hit","x":733,"y":147},{"s":"b2-12","st":"hit","x":762,"y":147},{"s":"b2-12","st":"hit","x":767,"y":152},{"s":"b2-12","st":"hit","x":770,"y":153},{"s":"b2-12","st":"hit","x":771,"y":330},
{"s":"b2-13","st":"late","x":771,"y":330},{"s":"b2-13","st":"late","x":777,"y":333},
{"s":"b2-14","st":"hit","x":777,"y":333},{"s":"b2-14","st":"hit","x":779,"y":337},{"s":"b2-14","st":"hit","x":779,"y":397},{"s":"b2-14","st":"hit","x":781,"y":400},
{"s":"b2-15","st":"late","x":781,"y":400},{"s":"b2-15","st":"late","x":785,"y":403},{"s":"b2-15","st":"late","x":788,"y":404},
{"s":"b2-16","st":"hit","x":788,"y":404},{"s":"b2-16","st":"hit","x":790,"y":410},{"s":"b2-16","st":"hit","x":790,"y":422},{"s":"b2-16","st":"hit","x":833,"y":422},{"s":"b2-16","st":"hit","x":834,"y":420},{"s":"b2-16","st":"hit","x":834,"y":283},{"s":"b2-16","st":"hit","x":836,"y":250},{"s":"b2-16","st":"hit","x":838,"y":223},{"s":"b2-16","st":"hit","x":843,"y":190},{"s":"b2-16","st":"hit","x":847,"y":177},{"s":"b2-16","st":"hit","x":850,"y":163},{"s":"b2-16","st":"hit","x":853,"y":157},{"s":"b2-16","st":"hit","x":857,"y":150},{"s":"b2-16","st":"hit","x":863,"y":147},{"s":"b2-16","st":"hit","x":897,"y":147},
{"s":"b2-17","st":"late","x":897,"y":147},{"s":"b2-17","st":"late","x":898,"y":150},{"s":"b2-17","st":"late","x":898,"y":323},
{"s":"b2-18","st":"hit","x":898,"y":323},{"s":"b2-18","st":"hit","x":900,"y":330},{"s":"b2-18","st":"hit","x":903,"y":337},{"s":"b2-18","st":"hit","x":909,"y":333},
{"s":"b2-19","st":"late","x":909,"y":333},{"s":"b2-19","st":"late","x":910,"y":323},{"s":"b2-19","st":"late","x":912,"y":333},
{"s":"b2-20","st":"hit","x":912,"y":333},{"s":"b2-20","st":"hit","x":914,"y":325},{"s":"b2-20","st":"hit","x":915,"y":383},{"s":"b2-20","st":"hit","x":917,"y":388},
{"s":"b2-21","st":"late","x":917,"y":388},{"s":"b2-21","st":"late","x":920,"y":392},{"s":"b2-21","st":"late","x":923,"y":387},{"s":"b2-21","st":"late","x":924,"y":382},
{"s":"a3-01","st":"miss","x":945,"y":147},{"s":"a3-01","st":"miss","x":948,"y":140},{"s":"a3-01","st":"miss","x":951,"y":124},{"s":"a3-01","st":"miss","x":955,"y":113},{"s":"a3-01","st":"miss","x":957,"y":105},{"s":"a3-01","st":"miss","x":959,"y":101},{"s":"a3-01","st":"miss","x":960,"y":100},{"s":"a3-01","st":"miss","x":962,"y":101},{"s":"a3-01","st":"miss","x":963,"y":103},{"s":"a3-01","st":"miss","x":965,"y":104},{"s":"a3-01","st":"miss","x":966,"y":107},{"s":"a3-01","st":"miss","x":966,"y":200},{"s":"a3-01","st":"miss","x":967,"y":273},{"s":"a3-01","st":"miss","x":968,"y":273},{"s":"a3-01","st":"miss","x":972,"y":277},{"s":"a3-01","st":"miss","x":975,"y":278},{"s":"a3-01","st":"miss","x":977,"y":286},
{"s":"a3-02","st":"hit","x":977,"y":286},{"s":"a3-02","st":"hit","x":997,"y":286},{"s":"a3-02","st":"hit","x":998,"y":267},{"s":"a3-02","st":"hit","x":1000,"y":240},{"s":"a3-02","st":"hit","x":1003,"y":210},{"s":"a3-02","st":"hit","x":1007,"y":196},{"s":"a3-02","st":"hit","x":1010,"y":187},{"s":"a3-02","st":"hit","x":1014,"y":180},{"s":"a3-02","st":"hit","x":1017,"y":173},{"s":"a3-02","st":"hit","x":1020,"y":167},{"s":"a3-02","st":"hit","x":1022,"y":157},{"s":"a3-02","st":"hit","x":1027,"y":147},{"s":"a3-02","st":"hit","x":1030,"y":130},{"s":"a3-02","st":"hit","x":1034,"y":125},{"s":"a3-02","st":"hit","x":1037,"y":114},{"s":"a3-02","st":"hit","x":1040,"y":111},{"s":"a3-02","st":"hit","x":1044,"y":100},{"s":"a3-02","st":"hit","x":1047,"y":93},{"s":"a3-02","st":"hit","x":1052,"y":83},{"s":"a3-02","st":"hit","x":1055,"y":77},{"s":"a3-02","st":"hit","x":1058,"y":72},{"s":"a3-02","st":"hit","x":1063,"y":66},
{"s":"a3-03","st":"miss","x":1063,"y":66},{"s":"a3-03","st":"miss","x":1068,"y":60},{"s":"a3-03","st":"miss","x":1071,"y":50},{"s":"a3-03","st":"miss","x":1075,"y":41},{"s":"a3-03","st":"miss","x":1077,"y":52},{"s":"a3-03","st":"miss","x":1080,"y":65},{"s":"a3-03","st":"miss","x":1083,"y":80},{"s":"a3-03","st":"miss","x":1087,"y":92},{"s":"a3-03","st":"miss","x":1090,"y":110},{"s":"a3-03","st":"miss","x":1092,"y":126},{"s":"a3-03","st":"miss","x":1093,"y":148},
{"s":"a3-04","st":"hit","x":1093,"y":148},{"s":"a3-04","st":"hit","x":1095,"y":155},{"s":"a3-04","st":"hit","x":1099,"y":158},
{"s":"a3-05","st":"miss","x":1099,"y":158},{"s":"a3-05","st":"miss","x":1101,"y":166},{"s":"a3-05","st":"miss","x":1103,"y":170},{"s":"a3-05","st":"miss","x":1105,"y":165},{"s":"a3-05","st":"miss","x":1106,"y":158},
{"s":"a3-06","st":"hit","x":1106,"y":158},{"s":"a3-06","st":"hit","x":1107,"y":110},{"s":"a3-06","st":"hit","x":1109,"y":106},
{"s":"a3-07","st":"miss","x":1109,"y":106},{"s":"a3-07","st":"miss","x":1111,"y":108},{"s":"a3-07","st":"miss","x":1113,"y":108},{"s":"a3-07","st":"miss","x":1116,"y":102},
{"s":"a3-08","st":"hit","x":1116,"y":102},{"s":"a3-08","st":"hit","x":1119,"y":99},{"s":"a3-08","st":"hit","x":1122,"y":93},{"s":"a3-08","st":"hit","x":1125,"y":118},{"s":"a3-08","st":"hit","x":1130,"y":120},
{"s":"a3-09","st":"miss","x":1130,"y":120},{"s":"a3-09","st":"miss","x":1133,"y":124},{"s":"a3-09","st":"miss","x":1135,"y":114},{"s":"a3-09","st":"miss","x":1137,"y":136},{"s":"a3-09","st":"miss","x":1140,"y":150},{"s":"a3-09","st":"miss","x":1140,"y":167},{"s":"a3-09","st":"miss","x":1144,"y":167},{"s":"a3-09","st":"miss","x":1145,"y":155},{"s":"a3-09","st":"miss","x":1146,"y":146},
{"s":"a3-10","st":"hit","x":1146,"y":146},{"s":"a3-10","st":"hit","x":1148,"y":160},{"s":"a3-10","st":"hit","x":1150,"y":175},{"s":"a3-10","st":"hit","x":1152,"y":195},{"s":"a3-10","st":"hit","x":1155,"y":207},{"s":"a3-10","st":"hit","x":1157,"y":210},{"s":"a3-10","st":"hit","x":1160,"y":232},{"s":"a3-10","st":"hit","x":1163,"y":243},{"s":"a3-10","st":"hit","x":1166,"y":246},{"s":"a3-10","st":"hit","x":1168,"y":252},{"s":"a3-10","st":"hit","x":1170,"y":260},{"s":"a3-10","st":"hit","x":1175,"y":276},{"s":"a3-10","st":"hit","x":1178,"y":270},
{"s":"a3-11","st":"miss","x":1178,"y":270},{"s":"a3-11","st":"miss","x":1180,"y":286},
{"s":"a3-12","st":"hit","x":1180,"y":286},{"s":"a3-12","st":"hit","x":1186,"y":286},
{"s":"a3-13","st":"miss","x":1186,"y":286},{"s":"a3-13","st":"miss","x":1188,"y":284},{"s":"a3-13","st":"miss","x":1190,"y":286},
{"s":"b3-01","st":"late","x":945,"y":226},{"s":"b3-01","st":"late","x":950,"y":205},{"s":"b3-01","st":"late","x":952,"y":202},{"s":"b3-01","st":"late","x":957,"y":193},
{"s":"b3-02","st":"hit","x":957,"y":193},{"s":"b3-02","st":"hit","x":962,"y":187},{"s":"b3-02","st":"hit","x":965,"y":182},
{"s":"b3-03","st":"late","x":965,"y":182},{"s":"b3-03","st":"late","x":966,"y":181},{"s":"b3-03","st":"late","x":968,"y":240},{"s":"b3-03","st":"late","x":969,"y":290},{"s":"b3-03","st":"late","x":971,"y":305},{"s":"b3-03","st":"late","x":973,"y":317},{"s":"b3-03","st":"late","x":975,"y":340},{"s":"b3-03","st":"late","x":977,"y":353},{"s":"b3-03","st":"late","x":978,"y":363},{"s":"b3-03","st":"late","x":982,"y":373},
{"s":"b3-04","st":"hit","x":982,"y":373},{"s":"b3-04","st":"hit","x":984,"y":375},{"s":"b3-04","st":"hit","x":992,"y":375},
{"s":"b3-05","st":"late","x":992,"y":375},{"s":"b3-05","st":"late","x":995,"y":367},{"s":"b3-05","st":"late","x":997,"y":343},{"s":"b3-05","st":"late","x":1000,"y":327},{"s":"b3-05","st":"late","x":1002,"y":318},{"s":"b3-05","st":"late","x":1003,"y":300},{"s":"b3-05","st":"late","x":1005,"y":293},
{"s":"b3-06","st":"hit","x":1005,"y":293},{"s":"b3-06","st":"hit","x":1010,"y":283},{"s":"b3-06","st":"hit","x":1017,"y":267},{"s":"b3-06","st":"hit","x":1020,"y":253},{"s":"b3-06","st":"hit","x":1023,"y":240},{"s":"b3-06","st":"hit","x":1027,"y":220},{"s":"b3-06","st":"hit","x":1032,"y":207},{"s":"b3-06","st":"hit","x":1037,"y":193},{"s":"b3-06","st":"hit","x":1042,"y":183},{"s":"b3-06","st":"hit","x":1048,"y":170},{"s":"b3-06","st":"hit","x":1053,"y":157},{"s":"b3-06","st":"hit","x":1057,"y":150},
{"s":"b3-07","st":"late","x":1057,"y":150},{"s":"b3-07","st":"late","x":1077,"y":150},{"s":"b3-07","st":"late","x":1080,"y":160},{"s":"b3-07","st":"late","x":1083,"y":180},{"s":"b3-07","st":"late","x":1087,"y":187},{"s":"b3-07","st":"late","x":1090,"y":200},{"s":"b3-07","st":"late","x":1091,"y":215},
{"s":"b3-08","st":"hit","x":1091,"y":215},{"s":"b3-08","st":"hit","x":1092,"y":230},{"s":"b3-08","st":"hit","x":1095,"y":233},{"s":"b3-08","st":"hit","x":1098,"y":232},{"s":"b3-08","st":"hit","x":1100,"y":233},{"s":"b3-08","st":"hit","x":1103,"y":240},
{"s":"b3-09","st":"late","x":1103,"y":240},{"s":"b3-09","st":"late","x":1105,"y":247},{"s":"b3-09","st":"late","x":1106,"y":213},{"s":"b3-09","st":"late","x":1107,"y":193},{"s":"b3-09","st":"late","x":1112,"y":188},{"s":"b3-09","st":"late","x":1117,"y":180},{"s":"b3-09","st":"late","x":1122,"y":172},{"s":"b3-09","st":"late","x":1123,"y":180},{"s":"b3-09","st":"late","x":1127,"y":183},{"s":"b3-09","st":"late","x":1130,"y":173},{"s":"b3-09","st":"late","x":1133,"y":177},{"s":"b3-09","st":"late","x":1136,"y":187},
{"s":"b3-10","st":"hit","x":1136,"y":187},{"s":"b3-10","st":"hit","x":1138,"y":200},{"s":"b3-10","st":"hit","x":1142,"y":217},{"s":"b3-10","st":"hit","x":1145,"y":223},{"s":"b3-10","st":"hit","x":1148,"y":227},{"s":"b3-10","st":"hit","x":1150,"y":240},{"s":"b3-10","st":"hit","x":1153,"y":253},{"s":"b3-10","st":"hit","x":1157,"y":263},{"s":"b3-10","st":"hit","x":1160,"y":270},{"s":"b3-10","st":"hit","x":1163,"y":290},{"s":"b3-10","st":"hit","x":1167,"y":297},
{"s":"b3-11","st":"late","x":1167,"y":297},{"s":"b3-11","st":"late","x":1168,"y":287},{"s":"b3-11","st":"late","x":1170,"y":300},
{"s":"b3-12","st":"hit","x":1170,"y":300},{"s":"b3-12","st":"hit","x":1173,"y":317},{"s":"b3-12","st":"hit","x":1177,"y":320},
{"s":"b3-13","st":"late","x":1177,"y":320},{"s":"b3-13","st":"late","x":1178,"y":313},{"s":"b3-13","st":"late","x":1180,"y":330},
{"s":"b3-14","st":"hit","x":1180,"y":330},{"s":"b3-14","st":"hit","x":1183,"y":340},{"s":"b3-14","st":"hit","x":1187,"y":343},
{"s":"b3-15","st":"late","x":1187,"y":343},{"s":"b3-15","st":"late","x":1188,"y":333},{"s":"b3-15","st":"late","x":1190,"y":353},
{"s":"b3-16","st":"hit","x":1190,"y":353},{"s":"b3-16","st":"hit","x":1193,"y":363},{"s":"b3-16","st":"hit","x":1197,"y":370},
{"s":"b3-17","st":"late","x":1197,"y":370},{"s":"b3-17","st":"late","x":1200,"y":375},{"s":"b3-17","st":"late","x":1203,"y":375}
]
},
"encoding": {
"x": {"field": "x", "type": "quantitative", "scale": {"domain": [0, 1207], "nice": false, "zero": false}, "axis": null},
"y": {"field": "y", "type": "quantitative", "scale": {"domain": [0, 436], "reverse": true, "nice": false, "zero": false}, "axis": null}
},
"layer": [
{"data": {"name": "refs"}, "transform": [{"filter": "datum.kind === 'mid'"}], "mark": {"type": "rule", "color": "#8c8c8c", "strokeWidth": 1.5}, "encoding": {"x2": {"field": "x2"}}},
{"data": {"name": "ticks"}, "mark": {"type": "rule", "color": "#8c8c8c", "strokeWidth": 1.5}, "encoding": {"y2": {"field": "y2"}}},
{"data": {"name": "sep"}, "mark": {"type": "rule", "color": "#8a8a8a", "strokeWidth": 1.5}, "encoding": {"y2": {"field": "y2"}}},
{"data": {"name": "target"}, "mark": {"type": "line", "color": "#3b7dd8", "strokeWidth": 1.6, "strokeJoin": "round"}, "encoding": {"detail": {"field": "s"}, "order": {"value": null}}},
{"data": {"name": "tr"}, "transform": [{"filter": "datum.st !== 'gap'"}], "mark": {"type": "line", "strokeWidth": 1.5, "strokeJoin": "round"}, "encoding": {"detail": {"field": "s"}, "order": {"value": null}, "color": {"field": "st", "type": "nominal", "scale": {"domain": ["hit", "miss", "late"], "range": ["#46d936", "#e3232b", "#ee8636"]}, "legend": null}}},
{"data": {"name": "tr"}, "transform": [{"filter": "datum.st === 'gap'"}], "mark": {"type": "line", "strokeWidth": 1.2, "color": "#8a8a8a", "strokeDash": [2, 2]}, "encoding": {"detail": {"field": "s"}, "order": {"value": null}}},
{"data": {"name": "refs"}, "transform": [{"filter": "datum.kind === 'LH'"}], "mark": {"type": "rule", "color": "#3a3a3a", "strokeWidth": 2.2, "strokeDash": [16, 8]}, "encoding": {"x2": {"field": "x2"}}},
{"data": {"name": "refs"}, "transform": [{"filter": "datum.kind === 'RH'"}], "mark": {"type": "rule", "color": "#7a7a7a", "strokeWidth": 1.6, "strokeDash": [15, 9]}, "encoding": {"x2": {"field": "x2"}}},
{"data": {"name": "labels"}, "mark": {"type": "text", "align": "left", "baseline": "alphabetic", "font": "Liberation Sans", "fontSize": 23, "color": "#111111"}, "encoding": {"text": {"field": "t"}}},
{"data": {"name": "scores"}, "transform": [{"filter": "datum.k === 'sig'"}], "mark": {"type": "text", "align": "left", "baseline": "alphabetic", "font": "Liberation Sans", "fontSize": 24, "fontWeight": "bold", "fontStyle": "italic", "color": "#e8202a"}, "encoding": {"text": {"field": "t"}}},
{"data": {"name": "scores"}, "transform": [{"filter": "datum.k === 'ns'"}], "mark": {"type": "text", "align": "left", "baseline": "alphabetic", "font": "Liberation Sans", "fontSize": 24, "fontWeight": "bold", "fontStyle": "italic", "color": "#66dd33"}, "encoding": {"text": {"field": "t"}}}
]
}
